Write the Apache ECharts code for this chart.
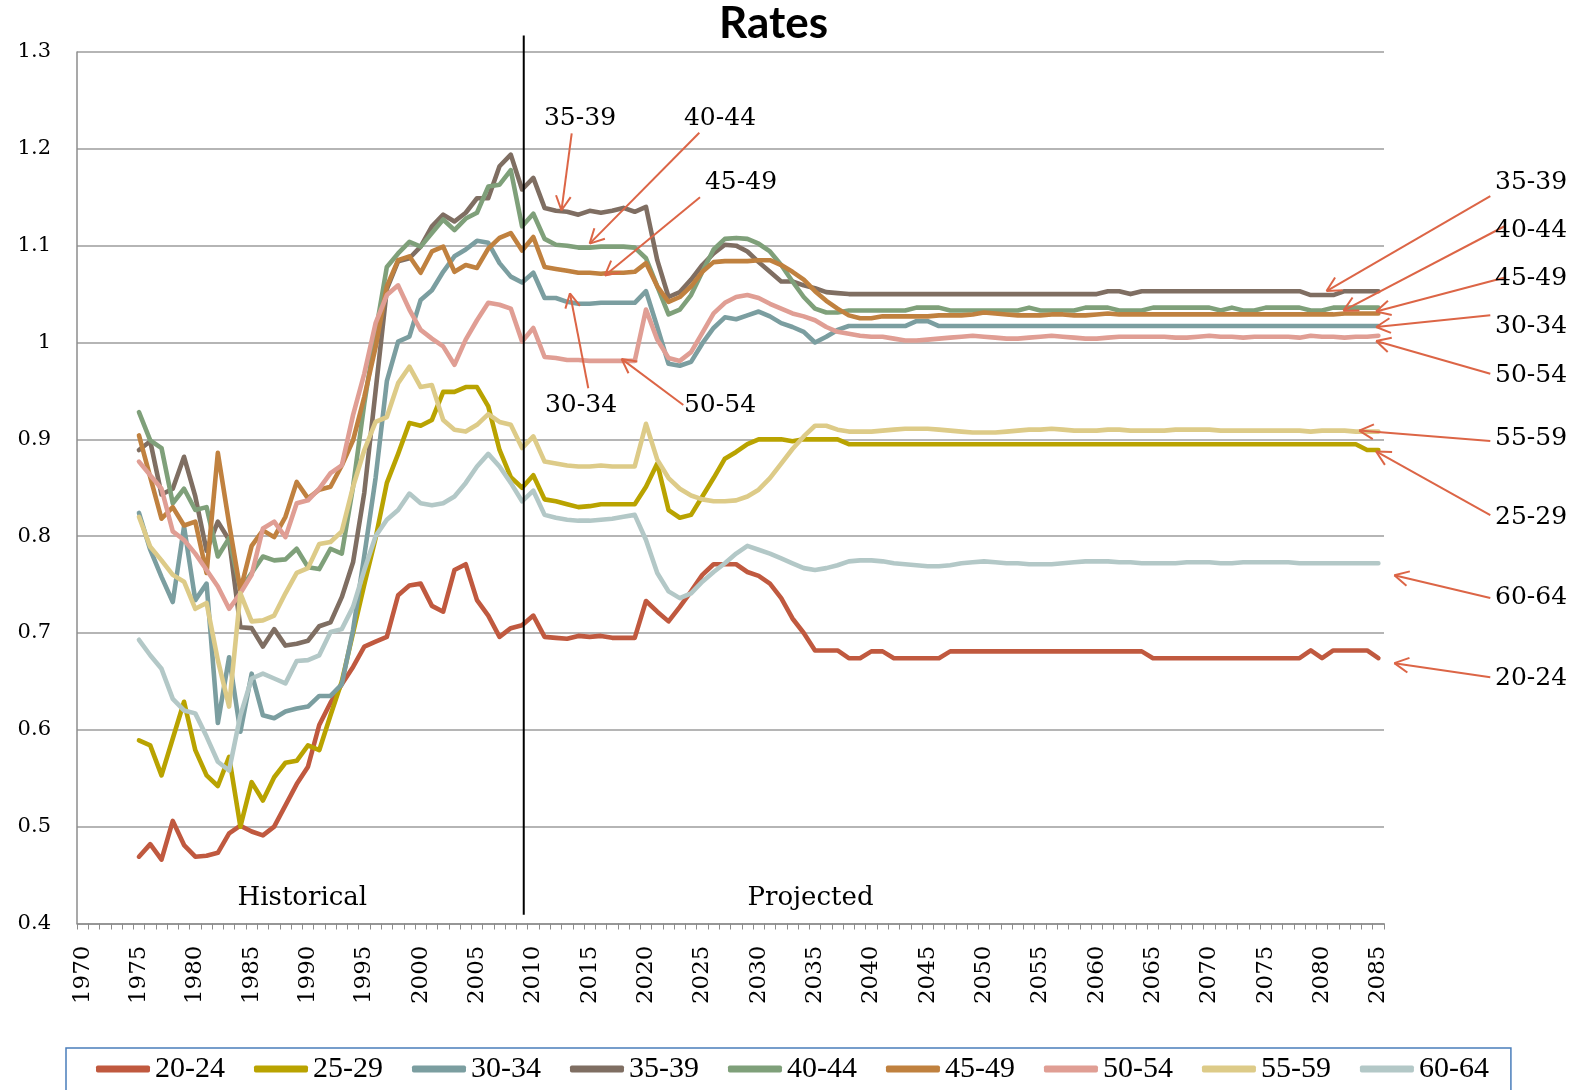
<!DOCTYPE html>
<html>
<head>
<meta charset="utf-8">
<script src="https://cdn.jsdelivr.net/npm/echarts@6/dist/echarts.min.js"></script>
<style>
html,body{margin:0;padding:0;background:#fff;}
#main{width:1580px;height:1090px;}
</style>
</head>
<body>
<div id="main"></div>
<script>
// ---------------- DATA ----------------
const firstYear = 1970, lastYear = 2085, dataStartYear = 1975;
const years = [];
for (let y = firstYear; y <= lastYear; y++) years.push(String(y));

const yTickLabels = ['0.4','0.5','0.6','0.7','0.8','0.9','1','1.1','1.2','1.3'];
const seriesNames = ['20-24','25-29','30-34','35-39','40-44','45-49','50-54','55-59','60-64'];

// values 1975..2085
const s2024 = [
 0.469,0.482,0.466,0.506,0.481,0.469,0.470,0.473,0.493,0.501,
 0.495,0.491,0.500,0.522,0.544,0.562,0.605,0.628,0.647,0.665,
 0.686,0.691,0.696,0.739,0.749,0.751,0.728,0.722,0.765,0.771,
 0.734,0.718,0.696,0.705,0.708,0.718,0.696,0.695,0.694,0.697,
 0.696,0.697,0.695,0.695,0.695,0.733,0.722,0.712,0.727,0.743,
 0.760,0.771,0.771,0.771,0.763,0.759,0.751,0.736,0.715,0.700,
 0.682,0.682,0.682,0.674,0.674,0.681,0.681,0.674,0.674,0.674,
 0.674,0.674,0.681,0.681,0.681,0.681,0.681,0.681,0.681,0.681,
 0.681,0.681,0.681,0.681,0.681,0.681,0.681,0.681,0.681,0.681,
 0.674,0.674,0.674,0.674,0.674,0.674,0.674,0.674,0.674,0.674,
 0.674,0.674,0.674,0.674,0.682,0.674,0.682,0.682,0.682,0.682,
 0.674];
const s2529 = [
 0.589,0.584,0.553,0.591,0.629,0.579,0.553,0.542,0.572,0.500,
 0.546,0.527,0.551,0.566,0.568,0.584,0.579,0.615,0.650,0.700,
 0.750,0.798,0.855,0.885,0.917,0.914,0.920,0.949,0.949,0.954,
 0.954,0.934,0.889,0.861,0.850,0.863,0.838,0.836,0.833,0.830,
 0.831,0.833,0.833,0.833,0.833,0.851,0.875,0.827,0.819,0.822,
 0.841,0.860,0.880,0.887,0.895,0.900,0.900,0.900,0.898,0.900,
 0.900,0.900,0.900,0.895,0.895,0.895,0.895,0.895,0.895,0.895,
 0.895,0.895,0.895,0.895,0.895,0.895,0.895,0.895,0.895,0.895,
 0.895,0.895,0.895,0.895,0.895,0.895,0.895,0.895,0.895,0.895,
 0.895,0.895,0.895,0.895,0.895,0.895,0.895,0.895,0.895,0.895,
 0.895,0.895,0.895,0.895,0.895,0.895,0.895,0.895,0.895,0.889,
 0.889];
const s3034 = [
 0.824,0.786,0.758,0.732,0.810,0.734,0.751,0.607,0.675,0.598,
 0.658,0.615,0.612,0.619,0.622,0.624,0.635,0.635,0.647,0.703,
 0.780,0.860,0.960,1.001,1.006,1.044,1.054,1.073,1.089,1.096,
 1.105,1.103,1.082,1.068,1.062,1.072,1.046,1.046,1.042,1.040,
 1.040,1.041,1.041,1.041,1.041,1.053,1.016,0.978,0.976,0.980,
 0.999,1.015,1.026,1.024,1.028,1.032,1.027,1.020,1.016,1.011,
 1.000,1.006,1.013,1.017,1.017,1.017,1.017,1.017,1.017,1.022,
 1.022,1.017,1.017,1.017,1.017,1.017,1.017,1.017,1.017,1.017,
 1.017,1.017,1.017,1.017,1.017,1.017,1.017,1.017,1.017,1.017,
 1.017,1.017,1.017,1.017,1.017,1.017,1.017,1.017,1.017,1.017,
 1.017,1.017,1.017,1.017,1.017,1.017,1.017,1.017,1.017,1.017,
 1.017];
const s3539 = [
 0.889,0.898,0.843,0.849,0.882,0.841,0.785,0.815,0.796,0.706,
 0.705,0.686,0.704,0.687,0.689,0.692,0.707,0.711,0.737,0.773,
 0.845,0.950,1.055,1.084,1.087,1.099,1.120,1.132,1.125,1.134,
 1.149,1.149,1.182,1.194,1.158,1.170,1.139,1.136,1.135,1.132,
 1.136,1.134,1.136,1.139,1.135,1.140,1.085,1.047,1.052,1.065,
 1.080,1.092,1.101,1.100,1.094,1.083,1.073,1.063,1.063,1.059,
 1.056,1.052,1.051,1.050,1.050,1.050,1.050,1.050,1.050,1.050,
 1.050,1.050,1.050,1.050,1.050,1.050,1.050,1.050,1.050,1.050,
 1.050,1.050,1.050,1.050,1.050,1.050,1.053,1.053,1.050,1.053,
 1.053,1.053,1.053,1.053,1.053,1.053,1.053,1.053,1.053,1.053,
 1.053,1.053,1.053,1.053,1.049,1.049,1.049,1.053,1.053,1.053,
 1.053];
const s4044 = [
 0.928,0.899,0.891,0.834,0.849,0.827,0.830,0.779,0.798,0.745,
 0.762,0.779,0.775,0.776,0.787,0.768,0.766,0.787,0.782,0.851,
 0.937,1.010,1.078,1.092,1.104,1.099,1.113,1.127,1.116,1.128,
 1.134,1.161,1.163,1.178,1.120,1.133,1.107,1.101,1.100,1.098,
 1.098,1.099,1.099,1.099,1.098,1.087,1.058,1.029,1.034,1.049,
 1.073,1.096,1.107,1.108,1.107,1.102,1.094,1.080,1.063,1.047,
 1.035,1.031,1.031,1.033,1.033,1.033,1.033,1.033,1.033,1.036,
 1.036,1.036,1.033,1.033,1.033,1.033,1.033,1.033,1.033,1.036,
 1.033,1.033,1.033,1.033,1.036,1.036,1.036,1.033,1.033,1.033,
 1.036,1.036,1.036,1.036,1.036,1.036,1.033,1.036,1.033,1.033,
 1.036,1.036,1.036,1.036,1.033,1.033,1.036,1.036,1.036,1.036,
 1.036];
const s4549 = [
 0.904,0.861,0.818,0.830,0.811,0.815,0.762,0.886,0.813,0.744,
 0.790,0.806,0.799,0.820,0.856,0.839,0.848,0.851,0.873,0.899,
 0.944,0.995,1.058,1.085,1.089,1.072,1.094,1.099,1.073,1.080,
 1.077,1.097,1.108,1.113,1.095,1.109,1.078,1.076,1.074,1.072,
 1.072,1.071,1.072,1.072,1.073,1.082,1.058,1.042,1.047,1.058,
 1.073,1.083,1.084,1.084,1.084,1.085,1.085,1.080,1.073,1.065,
 1.053,1.043,1.035,1.028,1.025,1.025,1.027,1.027,1.027,1.027,
 1.027,1.028,1.028,1.028,1.029,1.031,1.030,1.029,1.028,1.028,
 1.028,1.029,1.029,1.028,1.028,1.029,1.030,1.029,1.029,1.029,
 1.029,1.029,1.029,1.029,1.029,1.029,1.029,1.029,1.029,1.029,
 1.029,1.029,1.029,1.029,1.029,1.029,1.029,1.030,1.030,1.030,
 1.030];
const s5054 = [
 0.877,0.863,0.849,0.805,0.796,0.782,0.765,0.748,0.725,0.741,
 0.760,0.808,0.815,0.799,0.834,0.837,0.849,0.865,0.873,0.925,
 0.968,1.020,1.049,1.059,1.034,1.013,1.004,0.996,0.977,1.003,
 1.023,1.041,1.039,1.035,1.001,1.015,0.985,0.984,0.982,0.982,
 0.981,0.981,0.981,0.981,0.981,1.034,1.003,0.984,0.981,0.990,
 1.010,1.030,1.041,1.047,1.049,1.046,1.040,1.035,1.030,1.027,
 1.023,1.016,1.011,1.009,1.007,1.006,1.006,1.004,1.002,1.002,
 1.003,1.004,1.005,1.006,1.007,1.006,1.005,1.004,1.004,1.005,
 1.006,1.007,1.006,1.005,1.004,1.004,1.005,1.006,1.006,1.006,
 1.006,1.006,1.005,1.005,1.006,1.007,1.006,1.006,1.005,1.006,
 1.006,1.006,1.006,1.005,1.007,1.006,1.006,1.005,1.006,1.006,
 1.007];
const s5559 = [
 0.820,0.789,0.775,0.760,0.753,0.725,0.731,0.672,0.624,0.741,
 0.712,0.713,0.718,0.741,0.762,0.767,0.792,0.794,0.805,0.851,
 0.889,0.918,0.923,0.958,0.975,0.954,0.956,0.920,0.910,0.908,
 0.915,0.926,0.918,0.915,0.891,0.903,0.877,0.875,0.873,0.872,
 0.872,0.873,0.872,0.872,0.872,0.916,0.879,0.860,0.849,0.842,
 0.838,0.836,0.836,0.837,0.841,0.848,0.860,0.875,0.890,0.903,
 0.914,0.914,0.910,0.908,0.908,0.908,0.909,0.910,0.911,0.911,
 0.911,0.910,0.909,0.908,0.907,0.907,0.907,0.908,0.909,0.910,
 0.910,0.911,0.910,0.909,0.909,0.909,0.910,0.910,0.909,0.909,
 0.909,0.909,0.910,0.910,0.910,0.910,0.909,0.909,0.909,0.909,
 0.909,0.909,0.909,0.909,0.908,0.909,0.909,0.909,0.908,0.908,
 0.908];
const s6064 = [
 0.693,0.677,0.663,0.632,0.620,0.617,0.593,0.567,0.558,0.615,
 0.653,0.658,0.653,0.648,0.671,0.672,0.677,0.701,0.704,0.727,
 0.765,0.800,0.817,0.827,0.844,0.834,0.832,0.834,0.841,0.855,
 0.872,0.885,0.872,0.855,0.836,0.847,0.822,0.819,0.817,0.816,
 0.816,0.817,0.818,0.820,0.822,0.796,0.762,0.743,0.736,0.741,
 0.753,0.763,0.772,0.782,0.790,0.786,0.782,0.777,0.772,0.767,
 0.765,0.767,0.770,0.774,0.775,0.775,0.774,0.772,0.771,0.770,
 0.769,0.769,0.770,0.772,0.773,0.774,0.773,0.772,0.772,0.771,
 0.771,0.771,0.772,0.773,0.774,0.774,0.774,0.773,0.773,0.772,
 0.772,0.772,0.772,0.773,0.773,0.773,0.772,0.772,0.773,0.773,
 0.773,0.773,0.773,0.772,0.772,0.772,0.772,0.772,0.772,0.772,
 0.772];

const seriesValues = [s2024,s2529,s3034,s3539,s4044,s4549,s5054,s5559,s6064];
const seriesColors = ['#C0593F','#B9A300','#7B9EA0','#7F6E62','#7FA07A','#C0813F','#E09E94','#DDCB88','#B3C8C7'];

// ---------------- ANNOTATION LAYOUT ----------------
const arrowColor = '#DC6546';
// text: [x,y] pixel anchor; from: arrow start pixel; tip: series/year on the line + small pixel offset
const annotations = [
 {text:'35-39', at:[580,118], align:'center', from:[571.7,133.3], series:'35-39', year:2012.5, dx:0, dy:-1},
 {text:'40-44', at:[720,118], align:'center', from:[699.3,132.7], series:'40-44', year:2015, dx:0, dy:-4},
 {text:'45-49', at:[741,182], align:'center', from:[700,197.3], series:'45-49', year:2016.35, dx:0, dy:2},
 {text:'30-34', at:[581,405], align:'center', from:[588.3,388.3], series:'30-34', year:2013.25, dx:0, dy:-9},
 {text:'50-54', at:[720,405], align:'center', from:[683.3,405], series:'50-54', year:2017.83, dx:0, dy:-2},
 {text:'35-39', at:[1495,182], align:'left', from:[1490.3,196.2], series:'35-39', year:2080.4, dx:0, dy:-4},
 {text:'40-44', at:[1495,230], align:'left', from:[1505,226], series:'40-44', year:2081.9, dx:0, dy:3},
 {text:'45-49', at:[1495,278], align:'left', from:[1505.9,277.2], series:'45-49', year:2084.8, dx:0, dy:-2},
 {text:'30-34', at:[1495,326], align:'left', from:[1490.3,315.2], series:'30-34', year:2084.8, dx:0, dy:1},
 {text:'50-54', at:[1495,375], align:'left', from:[1490.3,373.8], series:'50-54', year:2084.8, dx:0, dy:5},
 {text:'55-59', at:[1495,438], align:'left', from:[1490.3,441], series:'55-59', year:2083.3, dx:0, dy:-1},
 {text:'25-29', at:[1495,517], align:'left', from:[1490.3,515.2], series:'25-29', year:2084.8, dx:0, dy:1.5},
 {text:'60-64', at:[1495,597], align:'left', from:[1490.3,598], series:'60-64', year:2085, dx:16, dy:12},
 {text:'20-24', at:[1495,678], align:'left', from:[1490.3,677.2], series:'20-24', year:2085, dx:16, dy:5}
];

// ---------------- CHART ----------------
const chart = echarts.init(document.getElementById('main'), null, {renderer:'canvas'});

function padded(arr){
  const out = [];
  for (let y = firstYear; y < dataStartYear; y++) out.push(null);
  return out.concat(arr);
}

const series = seriesNames.map((name,i)=>({
  name: name,
  type: 'line',
  data: padded(seriesValues[i]),
  showSymbol: false,
  symbol: 'none',
  smooth: false,
  color: seriesColors[i],
  lineStyle: {width: 4.6, color: seriesColors[i], cap:'round', join:'round'},
  emphasis: {disabled: true},
  animation: false
}));

chart.setOption({
  animation: false,
  backgroundColor: '#ffffff',
  title: {
    text: 'Rates', left: 719, top: 2, padding: 0,
    textStyle: {fontFamily: 'Lato', fontWeight: 'bold', fontSize: 44, color: '#000'}
  },
  grid: {left: 77, right: 196, top: 52, bottom: 166.5, containLabel: false},
  xAxis: {
    type: 'category', data: years, boundaryGap: true,
    axisLine: {show: true, lineStyle: {color: '#8c8c8c', width: 1.5}},
    axisTick: {show: true, interval: 0, length: 6, lineStyle: {color: '#8c8c8c', width: 1}},
    axisLabel: {interval: 4, rotate: 90, margin: 22, fontFamily: 'DejaVu Serif', fontSize: 23, color: '#000'},
    splitLine: {show: false}
  },
  yAxis: {
    type: 'value', min: 0.4, max: 1.3, interval: 0.1,
    axisLine: {show: true, lineStyle: {color: '#8c8c8c', width: 1.5}},
    axisTick: {show: false},
    axisLabel: {
      margin: 26, fontFamily: 'DejaVu Serif', fontSize: 21, color: '#000',
      formatter: v => yTickLabels[Math.round((v - 0.4) * 10)]
    },
    splitLine: {show: true, lineStyle: {color: '#9c9c9c', width: 1.5}}
  },
  legend: {
    data: seriesNames,
    left: 66, top: 1048,
    orient: 'horizontal',
    padding: [6, 22, 40, 30],
    borderColor: '#4A7EBB', borderWidth: 1.5,
    icon: 'roundRect',
    itemWidth: 54, itemHeight: 7, itemGap: 29,
    textStyle: {fontFamily: 'Liberation Serif', fontSize: 30, color: '#000'},
    selectedMode: false
  },
  series: series
});

// ---------- annotations drawn via axis conversion ----------
const grid = {xAxisIndex: 0, yAxisIndex: 0};
function toPx(yearIdxFrac, value){
  const i0 = Math.floor(yearIdxFrac), i1 = Math.ceil(yearIdxFrac);
  const p0 = chart.convertToPixel(grid, [years[i0], value]);
  const p1 = chart.convertToPixel(grid, [years[i1], value]);
  const t = yearIdxFrac - i0;
  return [p0[0] + (p1[0]-p0[0]) * t, p0[1]];
}
function valueAt(name, year){
  const arr = seriesValues[seriesNames.indexOf(name)];
  const y0 = Math.floor(year), y1 = Math.min(Math.ceil(year), lastYear);
  const v0 = arr[y0 - dataStartYear], v1 = arr[y1 - dataStartYear];
  return v0 + (v1 - v0) * (year - y0);
}

const graphics = [];
// vertical separator between historical and projected
const topPt = toPx(2009.15 - firstYear, 1.317);
const botPt = toPx(2009.15 - firstYear, 0.409);
graphics.push({type:'line', shape:{x1:topPt[0], y1:topPt[1], x2:botPt[0], y2:botPt[1]}, style:{stroke:'#000', lineWidth:2}, z:50});

// Historical / Projected labels
const histPt = toPx(1989.5 - firstYear, 0.4265);
const projPt = toPx(2034.6 - firstYear, 0.4265);
[['Historical', histPt], ['Projected', projPt]].forEach(([t, p]) => {
  graphics.push({type:'text', x:p[0], y:p[1], z:50,
    style:{text:t, fontFamily:'DejaVu Serif', fontSize:26, fill:'#000', textAlign:'center', textVerticalAlign:'middle', verticalAlign:'middle'}});
});

annotations.forEach(a => {
  const v = valueAt(a.series, Math.min(a.year, lastYear));
  const p = toPx(Math.min(a.year, lastYear) - firstYear, v);
  const tip = [p[0] + a.dx, p[1] + a.dy];
  const from = a.from;
  graphics.push({type:'line', shape:{x1:from[0], y1:from[1], x2:tip[0], y2:tip[1]}, style:{stroke:arrowColor, lineWidth:2}, z:60});
  const ang = Math.atan2(tip[1]-from[1], tip[0]-from[0]);
  const L = 16, phi = 0.48;
  [ang + phi, ang - phi].forEach(b => {
    graphics.push({type:'line', shape:{x1:tip[0], y1:tip[1], x2:tip[0] - L*Math.cos(b), y2:tip[1] - L*Math.sin(b)},
      style:{stroke:arrowColor, lineWidth:2}, z:60});
  });
  graphics.push({type:'text', x:a.at[0], y:a.at[1], z:61,
    style:{text:a.text, fontFamily:'DejaVu Serif', fontSize:25, fill:'#000', textAlign:a.align, textVerticalAlign:'middle', verticalAlign:'middle'}});
});

chart.setOption({graphic: graphics});
</script>
</body>
</html>
